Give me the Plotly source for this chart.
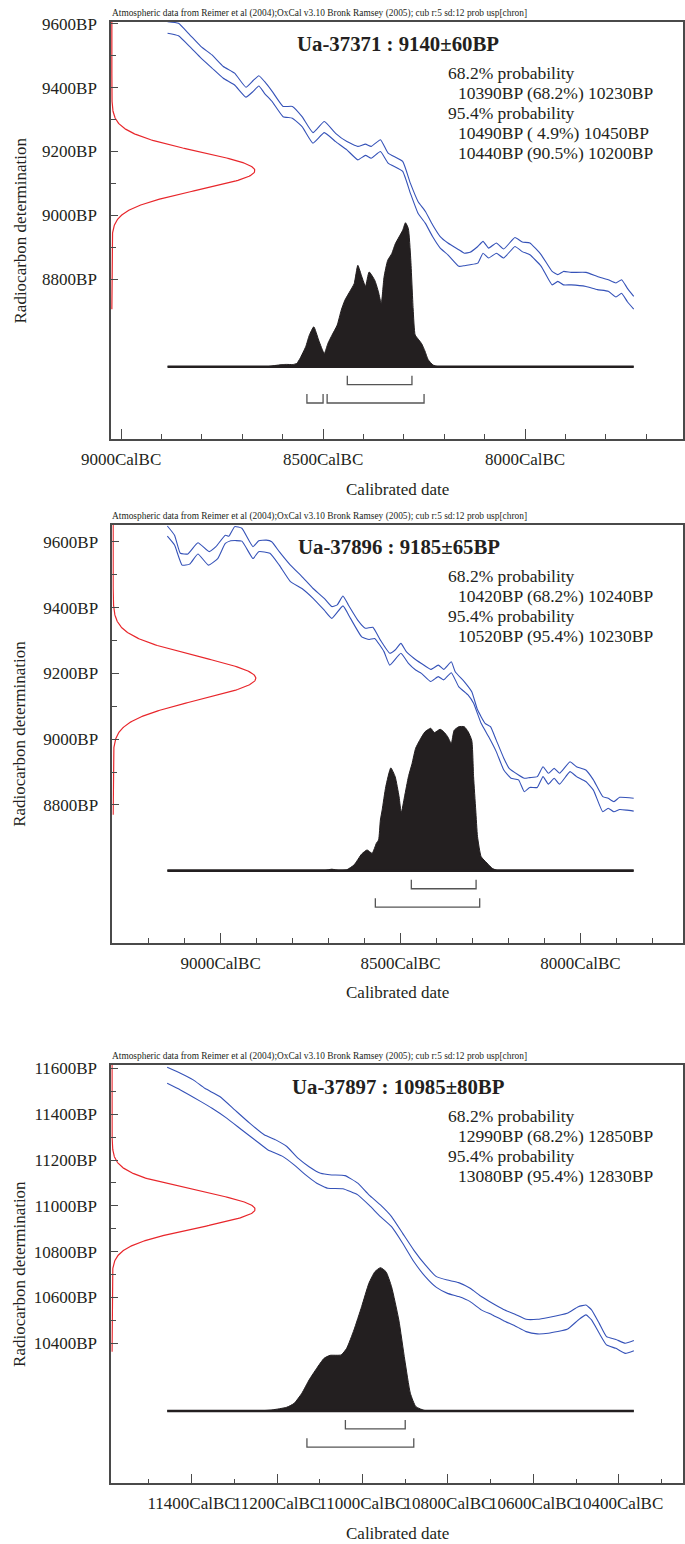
import numpy as np
import plotly.graph_objects as go

W, H = 685, 1544

# ---------------- data ----------------
LAB_IDS = ["Ua-37371", "Ua-37896", "Ua-37897"]
C14_MEAN = [9140, 9185, 10985]
C14_SD = [60, 65, 80]
CAPTION = ("Atmospheric data from Reimer et al (2004);OxCal v3.10 Bronk Ramsey (2005); "
           "cub r:5 sd:12 prob usp[chron]")

# calibration curve (upper / lower envelope), years cal BC vs BP
CURVE1_YEARS = [8885, 8858, 8830, 8802, 8775, 8747, 8719, 8691, 8673, 8659, 8645, 8626, 8599, 8576,
                8552, 8525, 8497, 8469, 8441, 8414, 8395, 8381, 8358, 8339, 8303, 8284, 8265, 8247,
                8229, 8210, 8191, 8164, 8150, 8136, 8117, 8104, 8090, 8071, 8053, 8025, 8007, 7988,
                7960, 7933, 7919, 7905, 7886, 7849, 7821, 7794, 7775, 7761, 7747, 7731]
CURVE1_UPPER = [9606, 9601, 9565, 9528, 9502, 9466, 9445, 9401, 9422, 9437, 9419, 9388, 9341, 9341,
                9309, 9259, 9294, 9257, 9231, 9216, 9223, 9216, 9237, 9195, 9169, 9101, 9044, 9013,
                8971, 8934, 8914, 8893, 8882, 8885, 8903, 8919, 8898, 8914, 8895, 8931, 8917, 8914,
                8877, 8825, 8815, 8825, 8822, 8822, 8809, 8799, 8789, 8799, 8773, 8747]
CURVE1_LOWER = [9570, 9562, 9528, 9492, 9461, 9429, 9408, 9370, 9388, 9405, 9382, 9356, 9309, 9304,
                9278, 9226, 9259, 9231, 9205, 9174, 9188, 9179, 9200, 9164, 9138, 9070, 9007, 8976,
                8934, 8898, 8877, 8841, 8843, 8846, 8851, 8882, 8867, 8882, 8867, 8903, 8887, 8877,
                8841, 8783, 8794, 8783, 8783, 8778, 8768, 8763, 8745, 8757, 8731, 8707]

CURVE2_UP_YEARS = [9148, 9128, 9112, 9091, 9063, 9032, 9013, 8987, 8977, 8961, 8941, 8910, 8894, 8873,
                   8858, 8837, 8806, 8774, 8743, 8712, 8691, 8676, 8660, 8645, 8619, 8598, 8577, 8556,
                   8530, 8515, 8499, 8484, 8463, 8442, 8416, 8395, 8380, 8359, 8348, 8323, 8302, 8286,
                   8265, 8250, 8234, 8213, 8198, 8172, 8156, 8141, 8120, 8104, 8089, 8073, 8058, 8029,
                   8011, 7985, 7964, 7938, 7923, 7907, 7891, 7852]
CURVE2_UPPER = [9648, 9620, 9565, 9563, 9597, 9570, 9585, 9620, 9617, 9646, 9641, 9585, 9603, 9605,
                9600, 9570, 9529, 9494, 9458, 9428, 9403, 9408, 9435, 9408, 9362, 9337, 9340, 9301,
                9261, 9271, 9291, 9266, 9246, 9230, 9212, 9225, 9212, 9235, 9205, 9175, 9144, 9089,
                9048, 9038, 8997, 8942, 8911, 8891, 8881, 8883, 8886, 8916, 8896, 8911, 8896, 8931,
                8916, 8906, 8876, 8825, 8820, 8810, 8823, 8820]
CURVE2_LO_YEARS = [9148, 9128, 9107, 9086, 9063, 9034, 9008, 8987, 8972, 8941, 8910, 8894, 8863, 8837,
                   8806, 8774, 8743, 8712, 8691, 8660, 8639, 8608, 8587, 8572, 8546, 8530, 8499, 8478,
                   8458, 8442, 8416, 8395, 8380, 8359, 8338, 8312, 8297, 8276, 8255, 8234, 8213, 8193,
                   8172, 8156, 8141, 8120, 8104, 8089, 8073, 8058, 8029, 8011, 7985, 7964, 7938, 7923,
                   7907, 7891, 7871, 7852]
CURVE2_LOWER = [9617, 9590, 9529, 9532, 9563, 9529, 9549, 9595, 9603, 9602, 9549, 9570, 9565, 9529,
                9479, 9458, 9428, 9392, 9367, 9405, 9367, 9311, 9303, 9306, 9266, 9225, 9261, 9230,
                9210, 9200, 9175, 9190, 9180, 9202, 9159, 9134, 9109, 9048, 9007, 8962, 8906, 8881,
                8876, 8840, 8853, 8853, 8886, 8863, 8881, 8863, 8901, 8886, 8871, 8845, 8779, 8790,
                8779, 8786, 8784, 8781]

CURVE3_UP_YEARS = [11457, 11426, 11396, 11369, 11334, 11299, 11264, 11230, 11203, 11177, 11151, 11125,
                   11098, 11072, 11041, 11011, 10985, 10958, 10932, 10906, 10880, 10853, 10827, 10801,
                   10775, 10748, 10722, 10696, 10670, 10643, 10617, 10591, 10565, 10521, 10495, 10477,
                   10464, 10446, 10429, 10407, 10385, 10365]
CURVE3_UPPER = [11605, 11579, 11550, 11513, 11477, 11419, 11361, 11310, 11288, 11259, 11208, 11171,
                11142, 11135, 11132, 11099, 11048, 11004, 10953, 10880, 10807, 10742, 10691, 10676,
                10665, 10640, 10604, 10575, 10548, 10527, 10505, 10505, 10513, 10531, 10560, 10567,
                10546, 10487, 10429, 10417, 10400, 10412]
CURVE3_LO_YEARS = [11457, 11426, 11378, 11352, 11317, 11282, 11247, 11221, 11186, 11160, 11133, 11107,
                   11081, 11046, 11011, 10985, 10958, 10932, 10906, 10880, 10853, 10827, 10801, 10775,
                   10748, 10722, 10696, 10670, 10643, 10617, 10591, 10565, 10521, 10495, 10477, 10464,
                   10446, 10429, 10407, 10385, 10365]
CURVE3_LOWER = [11535, 11506, 11455, 11426, 11382, 11331, 11281, 11244, 11215, 11179, 11135, 11099,
                11077, 11075, 11048, 11004, 10953, 10909, 10837, 10757, 10691, 10644, 10618, 10604,
                10582, 10546, 10524, 10499, 10476, 10451, 10441, 10444, 10461, 10502, 10524, 10502,
                10444, 10393, 10378, 10356, 10368]

# calibrated probability distributions (relative probability, peak = 1)
DIST1_YEARS = [8885, 8640, 8620, 8600, 8590, 8575, 8565, 8557, 8543, 8534, 8523, 8511, 8497, 8488,
               8478, 8465, 8455, 8446, 8432, 8423, 8414, 8404, 8395, 8386, 8372, 8363, 8356, 8349,
               8340, 8330, 8321, 8312, 8303, 8296, 8289, 8283, 8277, 8272, 8264, 8256, 8248, 8240,
               8228, 8215, 7731]
DIST1_PROB = [0, 0, 0.008, 0.015, 0.016, 0.015, 0.023, 0.058, 0.139, 0.219, 0.277, 0.185, 0.092, 0.162,
              0.219, 0.289, 0.393, 0.462, 0.531, 0.577, 0.704, 0.624, 0.559, 0.658, 0.600, 0.520, 0.439,
              0.624, 0.739, 0.785, 0.855, 0.901, 0.947, 1.0, 0.96, 0.75, 0.40, 0.22, 0.19, 0.16, 0.11,
              0.05, 0.012, 0, 0]
DIST2_YEARS = [9148, 8712, 8691, 8670, 8650, 8629, 8608, 8593, 8579, 8567, 8561, 8556, 8551, 8541,
               8527, 8515, 8504, 8498, 8489, 8478, 8468, 8458, 8447, 8432, 8416, 8406, 8390, 8380,
               8369, 8359, 8351, 8338, 8323, 8312, 8302, 8297, 8291, 8286, 8276, 8260, 8245, 8229, 7852]
DIST2_PROB = [0, 0, 0.01, 0, 0.005, 0.04, 0.115, 0.143, 0.12, 0.19, 0.212, 0.35, 0.42, 0.58, 0.71,
              0.65, 0.51, 0.40, 0.51, 0.65, 0.74, 0.846, 0.90, 0.96, 0.984, 0.954, 0.977, 0.96, 0.926,
              0.88, 0.97, 0.995, 0.995, 0.96, 0.90, 0.65, 0.42, 0.235, 0.097, 0.053, 0.016, 0, 0]
DIST3_YEARS = [11457, 11247, 11212, 11177, 11160, 11142, 11125, 11107, 11090, 11076, 11050, 11037,
               11020, 11002, 10985, 10971, 10958, 10945, 10932, 10915, 10901, 10888, 10875, 10853,
               10827, 10365]
DIST3_PROB = [0, 0, 0.007, 0.026, 0.053, 0.123, 0.216, 0.298, 0.367, 0.388, 0.391, 0.437, 0.565,
              0.728, 0.891, 0.972, 1.0, 0.972, 0.867, 0.635, 0.356, 0.123, 0.030, 0.002, 0, 0]

# calibrated ranges (from BP, to BP, percent)
RANGES_68 = [[(10390, 10230, 68.2)], [(10420, 10240, 68.2)], [(12990, 12850, 68.2)]]
RANGES_95 = [[(10490, 10450, 4.9), (10440, 10200, 90.5)], [(10520, 10230, 95.4)], [(13080, 12830, 95.4)]]
BP_ZERO_AD = 1950  # BP reference year (AD 1950); cal BC = BP - 1950

# ticks
X_MAJOR = [[9000, 8500, 8000], [9000, 8500, 8000], [11400, 11200, 11000, 10800, 10600, 10400]]
X_MINOR = [list(range(9000, 7650, -100)), list(range(9300, 7750, -100)), list(range(11500, 10250, -100))]
Y_MAJOR = [[9600, 9400, 9200, 9000, 8800], [9600, 9400, 9200, 9000, 8800],
           [11600, 11400, 11200, 11000, 10800, 10600, 10400]]
Y_MINOR = [[9500, 9300, 9100, 8900], [9500, 9300, 9100, 8900], [11500, 11300, 11100, 10900, 10700, 10500]]

CURVES = [
    (CURVE1_YEARS, CURVE1_UPPER, CURVE1_YEARS, CURVE1_LOWER),
    (CURVE2_UP_YEARS, CURVE2_UPPER, CURVE2_LO_YEARS, CURVE2_LOWER),
    (CURVE3_UP_YEARS, CURVE3_UPPER, CURVE3_LO_YEARS, CURVE3_LOWER),
]
DISTS = [(DIST1_YEARS, DIST1_PROB), (DIST2_YEARS, DIST2_PROB), (DIST3_YEARS, DIST3_PROB)]

# ---------------- layout (pixel geometry) ----------------
PLOT_PX = [(111, 683, 22, 439), (112.3, 683, 525, 942.7), (111.2, 683, 1064.5, 1483.3)]
X_RANGE = [(9025, 7609), (9301, 7715), (11588, 10250)]
Y_RANGE = [(8301, 9605), (8381, 9651), (9789, 11617)]
DIST_RANGE = [(-0.502, 2.394), (-0.498, 2.389), (-0.505, 2.418)]
RED_X_RANGE = (-0.006, 3.994)
RED_LOW = [8707, 8770, 10363]

SERIF = "Liberation Serif"
BLUE = "#3552b8"
RED = "#e8262b"
BLACK = "#231f20"
FRAME = "#4a4a4a"
TXT = "#231f20"


def axname(n):
    return ("x" if n == 1 else f"x{n}"), ("y" if n == 1 else f"y{n}")


def axkey(n):
    return ("xaxis" if n == 1 else f"xaxis{n}"), ("yaxis" if n == 1 else f"yaxis{n}")


fig = go.Figure()
layout = dict(width=W, height=H, margin=dict(l=0, r=0, t=0, b=0, autoexpand=False),
              paper_bgcolor="white", plot_bgcolor="white", showlegend=False)
annotations = []


def ann(text, x, y, size, xanchor="left", yanchor="middle", bold=False, angle=0):
    annotations.append(dict(text=(f"<b>{text}</b>" if bold else text), x=x / W, y=1 - y / H,
                            xref="paper", yref="paper", showarrow=False, xanchor=xanchor,
                            yanchor=yanchor, textangle=angle, borderpad=0,
                            font=dict(family=SERIF, size=size, color=TXT)))


for k in range(3):
    n_main = 4 * k + 1
    n_ov = 4 * k + 2
    xm, ym = axname(n_main)
    xo, yo = axname(n_ov)
    kxm, kym = axkey(n_main)
    kxo, kyo = axkey(n_ov)
    x0, x1, ytop, ybot = PLOT_PX[k]

    tickfont = dict(family=SERIF, size=17, color=TXT)
    layout[kxm] = dict(domain=[x0 / W, x1 / W], anchor=ym, range=list(X_RANGE[k]),
                       tickmode="array", tickvals=X_MAJOR[k],
                       ticktext=[f"{v}CalBC" for v in X_MAJOR[k]],
                       ticks="inside", ticklen=10, tickwidth=1.3, tickcolor=FRAME,
                       minor=dict(tickmode="array", tickvals=X_MINOR[k], ticks="inside",
                                  ticklen=5, tickwidth=1.3, tickcolor=FRAME),
                       showline=True, linecolor=FRAME, linewidth=1.5, mirror=True,
                       showgrid=False, zeroline=False, tickfont=tickfont, tickangle=0,
                       ticklabelstandoff=4, automargin=False)
    layout[kym] = dict(domain=[1 - ybot / H, 1 - ytop / H], anchor=xm, range=list(Y_RANGE[k]),
                       tickmode="array", tickvals=Y_MAJOR[k],
                       ticktext=[f"{v}BP" for v in Y_MAJOR[k]],
                       ticks="inside", ticklen=7, tickwidth=1.3, tickcolor=FRAME,
                       minor=dict(tickmode="array", tickvals=Y_MINOR[k], ticks="inside",
                                  ticklen=5, tickwidth=1.3, tickcolor=FRAME),
                       showline=True, linecolor=FRAME, linewidth=1.5, mirror=True,
                       showgrid=False, zeroline=False, tickfont=tickfont,
                       ticklabelstandoff=9, automargin=False)
    layout[kyo] = dict(overlaying=ym, anchor=xm, range=list(DIST_RANGE[k]), visible=False,
                       showgrid=False, zeroline=False, automargin=False)
    layout[kxo] = dict(overlaying=xm, anchor=ym, range=list(RED_X_RANGE), visible=False,
                       showgrid=False, zeroline=False, automargin=False)

    # calibration curve envelope
    uy, uv, ly, lv = CURVES[k]
    for cx_, cy_ in ((uy, uv), (ly, lv)):
        fig.add_trace(go.Scatter(x=cx_, y=cy_, mode="lines",
                                 line=dict(color=BLUE, width=1.1, shape="spline", smoothing=0.4),
                                 xaxis=xm, yaxis=ym, hoverinfo="skip"))

    # radiocarbon determination (normal distribution of the measurement)
    bp = np.linspace(RED_LOW[k], Y_RANGE[k][1] + 20, 500)
    dens = np.exp(-0.5 * ((bp - C14_MEAN[k]) / C14_SD[k]) ** 2)
    fig.add_trace(go.Scatter(x=dens, y=bp, mode="lines", line=dict(color=RED, width=1.2),
                             xaxis=xo, yaxis=ym, hoverinfo="skip"))

    # calibrated distribution
    dy, dp = DISTS[k]
    fig.add_trace(go.Scatter(x=dy, y=dp, mode="lines", fill="tozeroy", fillcolor=BLACK,
                             line=dict(color=BLACK, width=1, shape="spline", smoothing=0.5),
                             xaxis=xm, yaxis=yo, hoverinfo="skip"))
    fig.add_trace(go.Scatter(x=[dy[0], dy[-1]], y=[0, 0], mode="lines",
                             line=dict(color=BLACK, width=2.6), xaxis=xm, yaxis=yo,
                             hoverinfo="skip"))

    # range brackets
    for rows, (top, low) in ((RANGES_68[k], (-0.063, -0.125)), (RANGES_95[k], (-0.19, -0.252))):
        bx, byv = [], []
        for a, b, _ in rows:
            a_bc, b_bc = a - BP_ZERO_AD, b - BP_ZERO_AD
            bx += [a_bc, a_bc, b_bc, b_bc, None]
            byv += [top, low, low, top, None]
        fig.add_trace(go.Scatter(x=bx, y=byv, mode="lines", line=dict(color="#555555", width=1.3),
                                 xaxis=xm, yaxis=yo, hoverinfo="skip"))

    # texts
    cx = (x0 + x1) / 2
    ann(CAPTION, 110.5, ytop - 8.5, 9.4)
    ann(f"{LAB_IDS[k]} : {C14_MEAN[k]}\u00b1{C14_SD[k]}BP", cx + 1, ytop + 22, 20.8,
        xanchor="center", bold=True)
    lines = [("68.2% probability", 0)]
    lines += [(f"{a}BP ({p:4.1f}%) {b}BP", 1) for a, b, p in RANGES_68[k]]
    lines += [("95.4% probability", 0)]
    lines += [(f"{a}BP ({p:4.1f}%) {b}BP", 1) for a, b, p in RANGES_95[k]]
    for j, (t, ind) in enumerate(lines):
        ann(t, 447.0 + 9.5 * ind, ytop + 51 + 20 * j, 17.5)
    ann("Calibrated date", cx, ybot + 50, 17, xanchor="center")
    ann("Radiocarbon determination", 20, (ytop + ybot) / 2, 17, xanchor="center", angle=-90)

layout["annotations"] = annotations
fig.update_layout(**layout)
fig.write_html("out.html", config={"displayModeBar": False},
               post_script="document.body.style.margin='0';document.body.style.padding='0';")
